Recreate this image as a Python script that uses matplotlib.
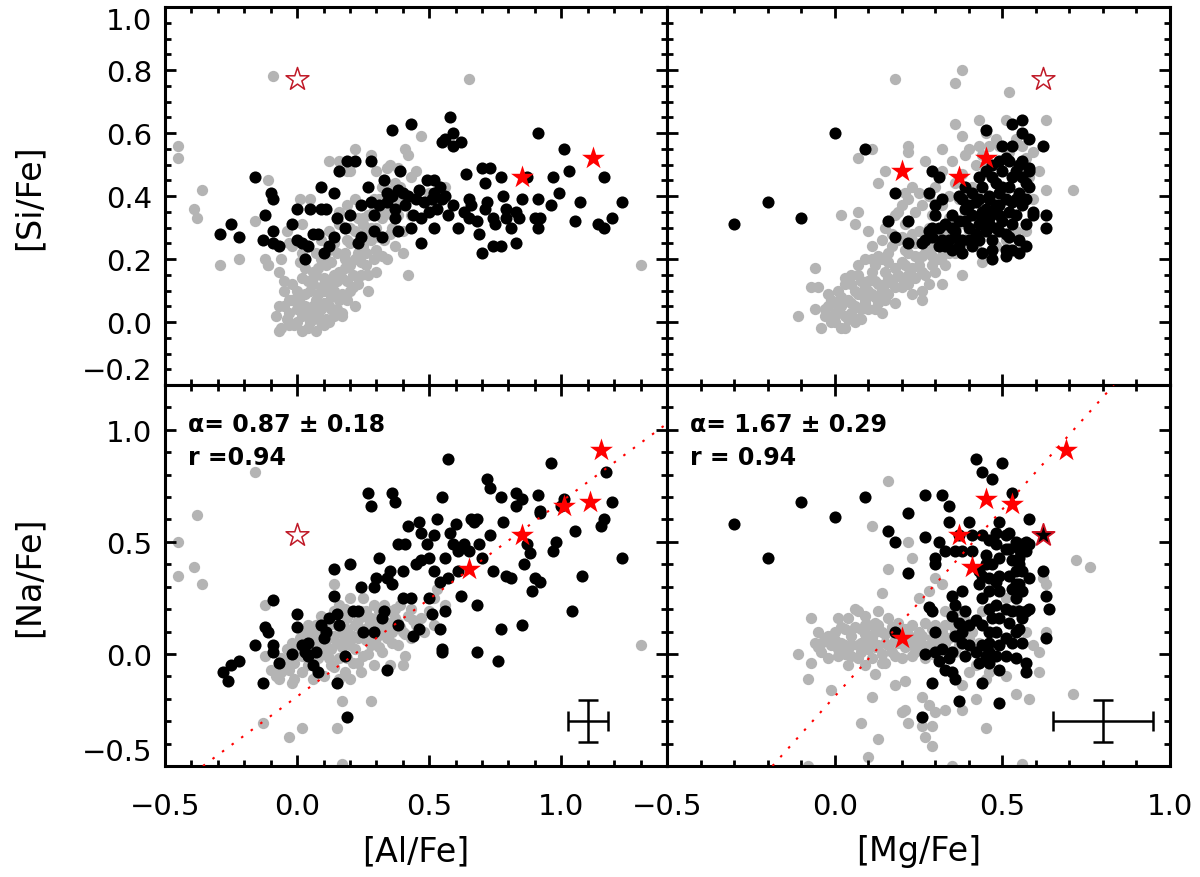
import numpy as np
import matplotlib
matplotlib.use("Agg")
from matplotlib import pyplot as plt
from matplotlib.ticker import MultipleLocator

# ---- values (x, y) ----
# top left: [Al/Fe] vs [Si/Fe]
gray_al_si = [
    (-0.45, 0.56), (-0.45, 0.52), (-0.39, 0.36), (-0.38, 0.33), (-0.36, 0.42), (-0.29, 0.18),
    (-0.22, 0.20), (-0.11, 0.45), (-0.09, 0.78), (0.65, 0.77), (1.30, 0.18), (0.47, 0.59),
    (0.22, 0.55), (0.28, 0.53), (0.41, 0.55), (0.42, 0.53), (0.42, 0.15), (-0.16, 0.32),
    (-0.12, 0.20), (-0.11, 0.18), (0.05, 0.39), (-0.03, 0.25), (0.12, 0.51), (0.20, 0.48),
    (-0.08, 0.02), (-0.07, 0.05), (-0.06, -0.02), (-0.05, 0.10), (-0.04, 0.01), (-0.03, 0.03),
    (-0.02, 0.07), (-0.02, 0.12), (-0.01, -0.01), (0.00, 0.04), (0.01, 0.08), (0.02, 0.02),
    (0.02, 0.14), (0.03, 0.05), (0.04, -0.02), (0.05, 0.10), (0.06, 0.01), (0.07, 0.07),
    (0.07, -0.03), (0.07, 0.15), (0.08, 0.03), (0.09, 0.11), (0.10, 0.06), (0.11, 0.01),
    (0.11, 0.18), (0.12, 0.13), (0.13, 0.04), (0.14, 0.10), (0.15, 0.22), (0.16, 0.16),
    (0.16, 0.07), (0.17, 0.02), (0.18, 0.20), (0.19, 0.13), (0.20, 0.25), (0.20, 0.18),
    (0.21, 0.11), (0.22, 0.29), (0.23, 0.22), (0.24, 0.15), (0.25, 0.31), (0.25, 0.24),
    (0.26, 0.18), (0.27, 0.34), (0.28, 0.26), (0.29, 0.20), (0.29, 0.36), (0.30, 0.30),
    (0.31, 0.39), (0.32, 0.33), (0.33, 0.26), (0.34, 0.42), (0.34, 0.36), (0.35, 0.50),
    (0.36, 0.30), (0.37, 0.44), (0.38, 0.39), (0.38, 0.34), (0.39, 0.43), (0.40, 0.29),
    (0.42, 0.39), (0.43, 0.34), (0.43, 0.46), (0.45, 0.48), (0.50, 0.41), (0.52, 0.38),
    (0.56, 0.43), (-0.04, 0.29), (-0.02, 0.24), (0.01, 0.19), (0.02, 0.22), (0.06, 0.16),
    (0.09, 0.20), (0.12, 0.29), (0.16, 0.31), (0.19, 0.37), (0.16, 0.35), (0.22, 0.39),
    (0.25, 0.33), (0.29, 0.39), (0.32, 0.43), (0.35, 0.40), (0.09, 0.26), (0.02, 0.31),
    (0.01, 0.39), (-0.06, 0.20), (-0.07, 0.16), (-0.05, 0.13), (0.16, 0.51), (0.19, 0.48),
    (0.30, 0.48), (0.34, 0.49), (0.38, 0.49), (-0.11, 0.18), (-0.07, -0.03), (0.02, -0.03),
    (0.12, 0.00), (0.17, 0.03), (0.22, 0.05), (0.27, 0.10), (0.30, 0.16), (0.34, 0.20),
    (0.37, 0.24), (0.40, 0.22), (0.05, 0.00), (0.09, 0.00), (0.13, 0.08), (0.00, 0.10),
    (0.04, 0.13), (0.08, 0.17), (0.15, 0.13), (-0.03, 0.07), (0.10, 0.14), (0.20, 0.10),
    (0.18, 0.22), (0.26, 0.26), (0.23, 0.33), (0.14, 0.25), (0.20, 0.30),
]
# densely packed core of the same cloud
gray_al_si_core = [
    (-0.05, 0.05), (-0.03, -0.01), (0.00, 0.00), (0.01, 0.05), (0.03, 0.09), (0.04, 0.03),
    (0.06, 0.05), (0.08, 0.09), (0.09, 0.04), (0.10, 0.10), (0.12, 0.05), (0.13, 0.11),
    (0.14, 0.15), (0.15, 0.04), (0.17, 0.09), (0.17, 0.14), (0.18, 0.17), (0.19, 0.07),
    (0.21, 0.15), (0.22, 0.20), (0.23, 0.12), (0.24, 0.19), (0.26, 0.22), (0.27, 0.15),
    (0.28, 0.30), (0.30, 0.23), (0.31, 0.27), (0.32, 0.21), (0.33, 0.35), (0.35, 0.28),
    (0.36, 0.34), (0.06, 0.12), (0.03, 0.17), (0.11, 0.22), (0.13, 0.19), (0.07, 0.22),
    (0.10, -0.01), (0.14, 0.02), (0.19, 0.26), (0.25, 0.28),
]
black_al_si = [
    (-0.29, 0.28), (-0.25, 0.31), (-0.22, 0.27), (-0.16, 0.46), (-0.13, 0.26), (-0.12, 0.34),
    (-0.10, 0.41), (-0.09, 0.39), (-0.09, 0.29), (-0.09, 0.25), (-0.07, 0.24), (-0.02, 0.31),
    (0.00, 0.36), (0.00, 0.26), (0.02, 0.25), (0.03, 0.20), (0.04, 0.24), (0.05, 0.36),
    (0.06, 0.28), (0.08, 0.28), (0.09, 0.36), (0.09, 0.43), (0.10, 0.22), (0.11, 0.36),
    (0.12, 0.24), (0.14, 0.41), (0.14, 0.27), (0.15, 0.33), (0.16, 0.48), (0.18, 0.30),
    (0.19, 0.51), (0.20, 0.34), (0.22, 0.51), (0.23, 0.25), (0.24, 0.27), (0.24, 0.37),
    (0.27, 0.43), (0.28, 0.38), (0.28, 0.51), (0.29, 0.34), (0.29, 0.29), (0.31, 0.37),
    (0.32, 0.27), (0.33, 0.45), (0.34, 0.41), (0.34, 0.38), (0.36, 0.61), (0.37, 0.33),
    (0.38, 0.29), (0.39, 0.48), (0.40, 0.41), (0.41, 0.37), (0.43, 0.30), (0.43, 0.63),
    (0.44, 0.34), (0.45, 0.39), (0.46, 0.42), (0.47, 0.25), (0.47, 0.33), (0.49, 0.45),
    (0.50, 0.35), (0.51, 0.39), (0.52, 0.30), (0.53, 0.36), (0.54, 0.43), (0.55, 0.39),
    (0.55, 0.57), (0.56, 0.58), (0.57, 0.34), (0.58, 0.65), (0.59, 0.60), (0.59, 0.56),
    (0.59, 0.37), (0.61, 0.30), (0.62, 0.57), (0.63, 0.35), (0.64, 0.47), (0.65, 0.33),
    (0.65, 0.39), (0.66, 0.37), (0.68, 0.32), (0.69, 0.28), (0.70, 0.22), (0.70, 0.49),
    (0.71, 0.44), (0.71, 0.36), (0.72, 0.38), (0.73, 0.49), (0.74, 0.33), (0.74, 0.24),
    (0.75, 0.31), (0.77, 0.46), (0.77, 0.24), (0.78, 0.40), (0.79, 0.36), (0.79, 0.33),
    (0.81, 0.30), (0.83, 0.35), (0.83, 0.25), (0.84, 0.33), (0.85, 0.39), (0.87, 0.46),
    (0.90, 0.33), (0.91, 0.39), (0.91, 0.30), (0.91, 0.60), (0.92, 0.33), (0.96, 0.37),
    (0.97, 0.46), (0.99, 0.41), (1.01, 0.55), (1.03, 0.48), (1.05, 0.32), (1.07, 0.38),
    (1.14, 0.31), (1.16, 0.30), (1.19, 0.33), (1.23, 0.38), (0.52, 0.45), (0.52, 0.41),
    (0.56, 0.40), (1.16, 0.46), (0.36, 0.40), (0.38, 0.42), (0.42, 0.40), (0.48, 0.38),
    (0.37, 0.36),
]
red_al_si = [(0.85, 0.46), (1.12, 0.52)]
open_al_si = [(0.00, 0.77)]

# top right: [Mg/Fe] vs [Si/Fe]
gray_mg_si = [
    (0.18, 0.77), (0.36, 0.76), (0.38, 0.80), (0.52, 0.73), (0.36, 0.63), (0.38, 0.59),
    (0.43, 0.64), (0.51, 0.64), (0.63, 0.64), (0.61, 0.48), (0.63, 0.42), (0.71, 0.42),
    (0.45, 0.60), (0.32, 0.55), (0.22, 0.56), (0.22, 0.54), (0.11, 0.55), (0.07, 0.52),
    (0.07, 0.35), (0.02, 0.34), (0.06, 0.31), (-0.06, 0.17), (-0.07, 0.11), (-0.05, 0.11),
    (-0.11, 0.02), (0.26, 0.07), (0.38, 0.15), (0.32, 0.12), (0.13, 0.44), (0.15, 0.48),
    (-0.04, -0.02), (-0.03, 0.02), (-0.02, 0.05), (-0.01, 0.00), (-0.01, 0.07), (0.01, 0.03),
    (0.01, 0.10), (0.02, -0.02), (0.02, 0.05), (0.03, 0.12), (0.04, 0.01), (0.04, 0.07),
    (0.05, 0.15), (0.05, 0.03), (0.06, 0.10), (0.07, 0.18), (0.07, 0.01), (0.08, 0.13),
    (0.09, 0.06), (0.09, 0.20), (0.10, 0.29), (0.10, 0.10), (0.11, 0.16), (0.11, 0.24),
    (0.12, 0.04), (0.12, 0.18), (0.13, 0.12), (0.14, 0.26), (0.14, 0.20), (0.15, 0.07),
    (0.15, 0.30), (0.16, 0.14), (0.16, 0.22), (0.18, 0.17), (0.18, 0.34), (0.19, 0.26),
    (0.20, 0.19), (0.20, 0.37), (0.21, 0.23), (0.21, 0.31), (0.22, 0.15), (0.22, 0.39),
    (0.23, 0.28), (0.24, 0.21), (0.24, 0.35), (0.25, 0.41), (0.25, 0.29), (0.26, 0.16),
    (0.26, 0.37), (0.27, 0.22), (0.27, 0.51), (0.28, 0.30), (0.28, 0.40), (0.29, 0.18),
    (0.29, 0.34), (0.30, 0.24), (0.30, 0.43), (0.31, 0.29), (0.31, 0.20), (0.32, 0.37),
    (0.32, 0.48), (0.33, 0.31), (0.34, 0.40), (0.34, 0.22), (0.35, 0.51), (0.35, 0.34),
    (0.36, 0.44), (0.36, 0.26), (0.37, 0.39), (0.37, 0.31), (0.38, 0.47), (0.39, 0.53),
    (0.39, 0.35), (0.40, 0.55), (0.41, 0.43), (0.42, 0.50), (0.43, 0.56), (0.44, 0.53),
    (0.45, 0.50), (0.46, 0.56), (0.48, 0.58), (0.49, 0.56), (0.52, 0.54), (0.54, 0.58),
    (0.56, 0.56), (0.57, 0.52), (0.59, 0.54), (0.58, 0.46), (0.59, 0.39), (0.56, 0.37),
    (0.57, 0.29), (0.54, 0.29), (0.51, 0.26), (0.48, 0.24), (0.46, 0.22), (0.44, 0.19),
    (0.42, 0.24), (0.40, 0.29), (0.09, 0.07), (0.08, 0.01), (0.20, 0.11), (0.24, 0.14),
    (0.28, 0.12), (0.30, 0.16), (0.26, 0.10), (0.19, 0.35), (0.21, 0.41), (0.23, 0.43),
    (0.00, 0.00), (0.03, -0.02), (0.06, 0.05), (0.12, 0.08), (0.08, 0.09), (-0.02, 0.09),
    (0.05, 0.12), (0.10, 0.13), (0.15, 0.16), (0.17, 0.24), (0.13, 0.21), (0.20, 0.27),
    (-0.06, 0.04), (0.00, 0.06),
]
gray_mg_si_core = [
    (-0.03, 0.04), (0.00, 0.03), (0.02, 0.08), (0.03, 0.02), (0.05, 0.06), (0.06, 0.00),
    (0.07, 0.09), (0.08, 0.04), (0.09, 0.11), (0.10, 0.04), (0.11, 0.09), (0.12, 0.13),
    (0.13, 0.06), (0.14, 0.10), (0.15, 0.12), (0.16, 0.09), (0.17, 0.13), (0.18, 0.11),
    (0.19, 0.15), (0.20, 0.14), (0.21, 0.18), (0.22, 0.12), (0.23, 0.17), (0.24, 0.25),
    (0.25, 0.18), (0.26, 0.21), (0.27, 0.27), (0.28, 0.23), (0.29, 0.21), (0.30, 0.28),
    (0.31, 0.25), (0.32, 0.21), (0.33, 0.28), (0.34, 0.33), (0.35, 0.27), (0.36, 0.22),
    (0.03, 0.14), (0.07, 0.15), (0.11, 0.20), (0.16, 0.19), (0.17, 0.28), (0.22, 0.22),
    (0.18, 0.06), (0.14, 0.03), (0.23, 0.09), (0.27, 0.15), (0.33, 0.18),
]
black_mg_si = [
    (-0.30, 0.31), (-0.20, 0.38), (-0.10, 0.33), (0.00, 0.60), (0.09, 0.55), (0.18, 0.41),
    (0.16, 0.32), (0.22, 0.32), (0.18, 0.27), (0.22, 0.25), (0.28, 0.41), (0.29, 0.48),
    (0.31, 0.46), (0.45, 0.61), (0.53, 0.63), (0.56, 0.64), (0.56, 0.60), (0.58, 0.58),
    (0.62, 0.56), (0.53, 0.56), (0.50, 0.56), (0.49, 0.51), (0.52, 0.51), (0.56, 0.51),
    (0.58, 0.49), (0.63, 0.34), (0.63, 0.30), (0.57, 0.24), (0.53, 0.23), (0.51, 0.21),
    (0.47, 0.20), (0.44, 0.22), (0.47, 0.23), (0.38, 0.22), (0.35, 0.23), (0.31, 0.24),
    (0.27, 0.26), (0.29, 0.27), (0.30, 0.37), (0.30, 0.34), (0.31, 0.30), (0.32, 0.39),
    (0.33, 0.31), (0.34, 0.26), (0.35, 0.34), (0.36, 0.29), (0.37, 0.24), (0.38, 0.39),
    (0.39, 0.43), (0.39, 0.36), (0.40, 0.30), (0.40, 0.26), (0.41, 0.41), (0.41, 0.34),
    (0.42, 0.38), (0.43, 0.31), (0.43, 0.26), (0.44, 0.43), (0.44, 0.35), (0.45, 0.29),
    (0.45, 0.48), (0.46, 0.39), (0.46, 0.33), (0.47, 0.26), (0.47, 0.46), (0.48, 0.37),
    (0.48, 0.30), (0.49, 0.41), (0.49, 0.34), (0.50, 0.48), (0.51, 0.39), (0.51, 0.28),
    (0.52, 0.43), (0.52, 0.35), (0.53, 0.31), (0.53, 0.46), (0.54, 0.39), (0.54, 0.34),
    (0.55, 0.26), (0.55, 0.41), (0.56, 0.37), (0.56, 0.46), (0.57, 0.31), (0.57, 0.39),
    (0.58, 0.43), (0.58, 0.48), (0.59, 0.35), (0.59, 0.34), (0.49, 0.29), (0.46, 0.40),
    (0.43, 0.39), (0.40, 0.37), (0.37, 0.32), (0.35, 0.30), (0.33, 0.24), (0.38, 0.26),
    (0.41, 0.24), (0.51, 0.23), (0.55, 0.22), (0.32, 0.26), (0.29, 0.30), (0.28, 0.29),
    (0.26, 0.25), (0.37, 0.40), (0.43, 0.46), (0.47, 0.50), (0.51, 0.52), (0.54, 0.48),
    (0.57, 0.44), (0.55, 0.50), (0.49, 0.37), (0.46, 0.31), (0.44, 0.33), (0.42, 0.28),
    (0.45, 0.36), (0.48, 0.44), (0.50, 0.32), (0.52, 0.27), (0.53, 0.38), (0.50, 0.43),
    (0.47, 0.35), (0.39, 0.32), (0.36, 0.27),
]
red_mg_si = [(0.20, 0.48), (0.37, 0.46), (0.45, 0.52)]
open_mg_si = [(0.62, 0.77)]

# bottom left: [Al/Fe] vs [Na/Fe]
gray_al_na = [
    (-0.45, 0.50), (-0.45, 0.35), (-0.39, 0.39), (-0.38, 0.62), (-0.36, 0.31), (-0.16, 0.81),
    (0.14, 0.31), (1.30, 0.04), (-0.13, -0.31), (-0.03, -0.37), (0.02, -0.33), (0.15, -0.33),
    (0.17, -0.21), (0.28, -0.21), (0.17, -0.49), (-0.12, 0.22), (0.28, 0.16),
    (-0.12, -0.01), (-0.10, -0.07), (-0.08, -0.10), (-0.07, -0.11), (-0.06, -0.02), (-0.04, 0.02),
    (-0.03, -0.07), (-0.02, 0.05), (-0.02, -0.13), (-0.01, -0.04), (0.01, 0.07), (0.02, -0.01),
    (0.02, -0.08), (0.03, 0.10), (0.04, -0.05), (0.05, 0.02), (0.06, -0.11), (0.07, 0.13),
    (0.07, 0.05), (0.08, -0.02), (0.09, 0.17), (0.10, -0.10), (0.11, 0.08), (0.11, 0.01),
    (0.12, 0.13), (0.13, -0.05), (0.14, 0.19), (0.15, 0.05), (0.16, -0.02), (0.16, 0.22),
    (0.17, 0.10), (0.18, -0.08), (0.19, 0.16), (0.20, 0.04), (0.20, 0.25), (0.21, -0.04),
    (0.22, 0.13), (0.23, 0.07), (0.24, 0.19), (0.25, -0.01), (0.25, 0.25), (0.26, 0.10),
    (0.27, 0.16), (0.28, 0.04), (0.29, 0.22), (0.29, 0.13), (0.30, 0.07), (0.31, 0.19),
    (0.32, 0.01), (0.33, 0.22), (0.34, 0.13), (0.34, 0.07), (0.35, 0.19), (0.36, 0.10),
    (0.37, 0.20), (0.38, 0.04), (0.38, 0.14), (0.39, 0.22), (0.40, 0.10), (0.41, -0.01),
    (0.42, 0.17), (0.43, 0.07), (0.43, 0.20), (0.45, 0.13), (0.47, 0.16), (0.48, 0.10),
    (0.50, 0.19), (0.52, 0.25), (0.53, 0.29), (0.56, 0.22), (0.12, 0.07), (0.16, -0.11),
    (0.09, 0.10), (0.02, 0.04), (0.06, -0.02), (0.20, -0.11), (0.24, -0.08), (0.29, -0.05),
    (-0.01, -0.11), (-0.06, -0.08), (0.52, 0.13), (0.35, -0.05), (0.40, -0.05),
]
gray_al_na_core = [
    (-0.04, -0.04), (0.00, 0.02), (0.03, 0.06), (0.05, -0.03), (0.08, 0.02), (0.09, 0.07),
    (0.10, 0.04), (0.13, 0.02), (0.14, 0.08), (0.15, 0.13), (0.17, 0.03), (0.18, 0.07),
    (0.19, 0.11), (0.21, 0.08), (0.22, 0.02), (0.23, 0.15), (0.24, 0.11), (0.26, 0.06),
    (0.27, 0.12), (0.28, 0.09), (0.30, 0.15), (0.31, 0.11), (0.32, 0.18), (0.33, 0.09),
    (0.35, 0.14), (0.36, 0.05), (0.37, 0.16), (0.39, 0.12), (0.41, 0.09), (0.44, 0.15),
    (0.12, -0.02), (0.14, -0.06), (0.19, -0.02), (0.23, -0.04), (0.27, 0.00), (0.31, 0.03),
    (0.06, 0.09), (0.04, 0.13), (0.18, 0.20), (0.26, 0.19),
]
black_al_na = [
    (-0.28, -0.08), (-0.26, -0.12), (-0.25, -0.05), (-0.22, -0.03), (-0.16, 0.04), (-0.13, -0.13),
    (-0.12, 0.12), (-0.11, 0.10), (-0.09, 0.04), (-0.09, 0.01), (-0.09, 0.24), (-0.07, -0.04),
    (-0.02, 0.00), (0.00, 0.18), (0.00, 0.12), (0.02, 0.04), (0.03, 0.01), (0.04, 0.05),
    (0.04, -0.01), (0.06, -0.05), (0.07, 0.01), (0.08, -0.08), (0.09, 0.13), (0.10, 0.07),
    (0.11, 0.10), (0.12, 0.16), (0.14, 0.38), (0.14, 0.26), (0.15, -0.13), (0.15, 0.18),
    (0.16, 0.13), (0.18, -0.01), (0.19, -0.28), (0.20, 0.40), (0.21, 0.19), (0.23, 0.19),
    (0.24, 0.30), (0.25, 0.10), (0.27, 0.72), (0.28, 0.66), (0.29, 0.10), (0.29, 0.30),
    (0.30, 0.34), (0.31, 0.43), (0.32, 0.16), (0.33, 0.19), (0.34, 0.34), (0.34, -0.07),
    (0.35, 0.37), (0.36, 0.31), (0.36, 0.72), (0.37, 0.68), (0.38, 0.49), (0.38, 0.13),
    (0.40, 0.25), (0.40, 0.37), (0.41, 0.49), (0.42, 0.57), (0.43, 0.25), (0.44, 0.08),
    (0.45, 0.40), (0.46, 0.59), (0.46, 0.11), (0.47, 0.42), (0.47, 0.54), (0.49, 0.49),
    (0.50, 0.25), (0.50, 0.43), (0.51, 0.18), (0.52, 0.37), (0.52, 0.53), (0.53, 0.60),
    (0.54, 0.32), (0.54, 0.11), (0.55, 0.02), (0.55, 0.70), (0.55, 0.01), (0.56, 0.43),
    (0.56, 0.19), (0.57, 0.87), (0.57, 0.34), (0.58, 0.54), (0.59, 0.49), (0.60, 0.58),
    (0.61, 0.37), (0.61, 0.46), (0.62, 0.26), (0.63, 0.49), (0.65, 0.46), (0.66, 0.60),
    (0.67, 0.59), (0.68, 0.60), (0.68, 0.22), (0.69, 0.49), (0.70, 0.43), (0.68, 0.01),
    (0.72, 0.78), (0.73, 0.74), (0.73, 0.53), (0.74, 0.37), (0.76, -0.03), (0.77, 0.70),
    (0.77, 0.11), (0.78, 0.59), (0.79, 0.35), (0.81, 0.34), (0.83, 0.66), (0.83, 0.72),
    (0.85, 0.69), (0.85, 0.13), (0.86, 0.40), (0.87, 0.49), (0.88, 0.45), (0.90, 0.34),
    (0.91, 0.71), (0.92, 0.64), (0.92, 0.63), (0.96, 0.85), (0.97, 0.46), (0.98, 0.50),
    (1.00, 0.66), (1.01, 0.69), (1.04, 0.19), (1.05, 0.55), (1.08, 0.35), (1.15, 0.57),
    (1.16, 0.60), (1.17, 0.81), (1.19, 0.68), (1.23, 0.43), (0.92, 0.32), (0.89, 0.28),
]
red_al_na = [(0.65, 0.38), (0.85, 0.53), (1.01, 0.66), (1.11, 0.68), (1.15, 0.91)]
open_al_na = [(0.00, 0.53)]

# bottom right: [Mg/Fe] vs [Na/Fe]
gray_mg_na = [
    (0.16, 0.77), (0.11, 0.57), (0.22, 0.50), (0.23, 0.43), (0.16, 0.38), (0.14, 0.27),
    (0.72, 0.42), (0.76, 0.39), (0.71, -0.18), (0.61, -0.08), (0.63, 0.10), (0.58, -0.20),
    (0.54, -0.18), (0.63, 0.31), (0.62, 0.34), (0.45, -0.33), (0.10, -0.46), (-0.08, -0.50),
    (0.35, -0.50), (0.56, -0.49), (0.13, -0.38), (0.08, -0.31), (0.29, -0.41), (0.27, -0.37),
    (0.11, -0.19), (0.12, -0.09), (0.18, -0.14), (0.21, -0.12), (-0.08, -0.11), (-0.01, -0.16),
    (-0.11, 0.00), (-0.07, -0.04), (0.32, 0.31), (0.30, 0.34),
    (-0.07, 0.16), (-0.06, 0.05), (-0.05, 0.10), (-0.04, 0.01), (-0.03, 0.07), (-0.02, -0.02),
    (-0.01, 0.04), (0.00, 0.10), (0.01, 0.16), (0.01, -0.01), (0.02, 0.05), (0.03, 0.11),
    (0.04, -0.05), (0.04, 0.02), (0.05, 0.08), (0.06, 0.20), (0.07, -0.02), (0.07, 0.04),
    (0.08, 0.11), (0.09, -0.05), (0.09, 0.17), (0.10, 0.02), (0.11, 0.07), (0.11, -0.02),
    (0.12, 0.14), (0.13, 0.04), (0.14, 0.10), (0.14, -0.04), (0.15, 0.05), (0.16, 0.16),
    (0.17, 0.01), (0.18, 0.10), (0.19, 0.05), (0.20, -0.02), (0.21, 0.11), (0.22, 0.04),
    (0.23, 0.07), (0.24, 0.01), (0.25, 0.25), (0.25, 0.10), (0.26, 0.04), (0.27, -0.02),
    (0.28, 0.28), (0.29, 0.07), (0.30, 0.13), (0.31, 0.04), (0.32, 0.10), (0.33, 0.19),
    (0.34, 0.07), (0.35, 0.13), (0.36, 0.01), (0.38, 0.19), (0.40, 0.07), (0.42, -0.05),
    (0.44, 0.19), (0.46, -0.08), (0.48, 0.10), (0.51, 0.25), (0.54, 0.20), (0.57, 0.10),
    (0.59, 0.04), (0.61, 0.01), (0.36, -0.11), (0.38, -0.14), (0.40, -0.08), (0.45, -0.11),
    (0.51, -0.10), (0.42, -0.20), (0.38, -0.25), (0.26, -0.19), (0.28, -0.23), (0.30, -0.26),
    (0.20, -0.26), (0.22, -0.31), (0.26, -0.32), (0.29, -0.32), (0.21, -0.25), (0.33, -0.25),
    (0.01, 0.02), (-0.04, 0.05), (0.05, -0.01), (0.10, 0.13), (0.15, -0.04), (0.03, 0.04),
    (0.08, 0.05), (0.20, 0.08), (0.13, 0.19), (0.07, 0.19),
]
gray_mg_na_core = [
    (-0.05, 0.03), (-0.02, 0.08), (0.00, 0.06), (0.02, 0.12), (0.03, 0.00), (0.05, 0.04),
    (0.06, 0.12), (0.08, 0.01), (0.09, 0.09), (0.10, 0.05), (0.12, 0.03), (0.12, 0.10),
    (0.13, 0.13), (0.15, 0.09), (0.16, 0.04), (0.17, 0.12), (0.18, 0.06), (0.19, 0.14),
    (0.21, 0.03), (0.22, 0.09), (0.23, 0.13), (0.24, 0.05), (0.26, 0.08), (0.27, 0.14),
    (0.28, 0.04), (0.29, 0.11), (0.31, 0.08), (0.33, 0.05), (0.33, 0.13), (0.36, 0.10),
    (0.37, 0.04), (0.39, 0.15), (0.41, 0.10), (0.43, 0.05), (0.04, 0.16), (0.09, 0.13),
    (0.14, 0.00), (0.18, -0.01), (0.23, -0.01), (0.29, 0.00),
]
black_mg_na = [
    (-0.30, 0.58), (-0.20, 0.43), (-0.10, 0.68), (0.00, 0.61), (0.09, 0.70), (0.16, 0.55),
    (0.18, 0.50), (0.22, 0.63), (0.22, 0.36), (0.27, 0.71), (0.27, 0.52), (0.31, 0.50),
    (0.32, 0.71), (0.34, 0.66), (0.42, 0.87), (0.44, 0.81), (0.47, 0.78), (0.50, 0.85),
    (0.53, 0.72), (0.58, 0.60), (0.62, 0.37), (0.64, 0.20), (0.63, 0.07), (0.63, 0.26),
    (0.49, -0.22), (0.37, -0.21), (0.26, -0.28), (0.29, -0.13), (0.44, -0.13), (0.18, 0.10),
    (0.27, 0.00), (0.30, 0.43), (0.30, 0.40), (0.33, 0.46), (0.34, 0.59), (0.36, 0.46),
    (0.35, 0.26), (0.36, 0.22), (0.38, 0.28), (0.37, 0.53), (0.38, 0.46), (0.40, 0.59),
    (0.41, 0.53), (0.41, 0.46), (0.44, 0.53), (0.45, 0.44), (0.46, 0.51), (0.48, 0.54),
    (0.49, 0.59), (0.51, 0.53), (0.52, 0.54), (0.54, 0.50), (0.55, 0.47), (0.56, 0.49),
    (0.57, 0.50), (0.58, 0.49), (0.51, 0.47), (0.49, 0.43), (0.47, 0.40), (0.53, 0.42),
    (0.55, 0.40), (0.56, 0.37), (0.54, 0.37), (0.52, 0.35), (0.49, 0.35), (0.48, 0.32),
    (0.46, 0.34), (0.44, 0.35), (0.43, 0.31), (0.46, 0.28), (0.49, 0.28), (0.53, 0.29),
    (0.55, 0.31), (0.56, 0.28), (0.54, 0.25), (0.55, 0.19), (0.53, 0.19), (0.51, 0.20),
    (0.48, 0.22), (0.46, 0.20), (0.44, 0.25), (0.47, 0.16), (0.49, 0.16), (0.52, 0.14),
    (0.55, 0.11), (0.57, 0.19), (0.58, 0.20), (0.56, 0.16), (0.54, 0.10), (0.53, 0.05),
    (0.51, 0.07), (0.48, 0.10), (0.46, 0.10), (0.44, 0.13), (0.42, 0.15), (0.40, 0.13),
    (0.38, 0.10), (0.36, 0.08), (0.38, 0.05), (0.40, 0.04), (0.42, 0.01), (0.44, 0.04),
    (0.46, 0.01), (0.48, -0.01), (0.51, -0.01), (0.54, -0.02), (0.57, -0.04), (0.57, -0.08),
    (0.49, -0.07), (0.46, -0.04), (0.43, -0.04), (0.35, 0.01), (0.34, -0.02), (0.32, 0.02),
    (0.30, 0.01), (0.31, -0.03), (0.33, -0.07), (0.35, -0.08), (0.36, -0.11), (0.30, 0.10),
    (0.29, 0.19), (0.28, 0.21), (0.35, 0.17), (0.37, 0.14), (0.39, 0.19), (0.43, 0.37),
    (0.45, 0.40), (0.48, 0.49), (0.52, 0.47), (0.55, 0.43), (0.57, 0.46), (0.58, 0.34),
    (0.54, 0.31), (0.49, 0.04), (0.46, 0.05), (0.45, -0.01), (0.39, -0.01), (0.56, 0.05),
]
red_mg_na = [(0.20, 0.07), (0.37, 0.53), (0.41, 0.39), (0.45, 0.69), (0.53, 0.67), (0.69, 0.91)]
open_mg_na = []
dark_mg_na = [(0.62, 0.53)]

# fits shown as dotted lines: slope, intercept
fit_al_na = (0.87, -0.19)
fit_mg_na = (1.67, -0.19)
fit_text_al = ["α= 0.87 ± 0.18", "r =0.94"]
fit_text_mg = ["α= 1.67 ± 0.29", "r = 0.94"]

# typical error bars: x, y, xerr, yerr
err_al = (1.10, -0.30, 0.075, 0.095)
err_mg = (0.80, -0.30, 0.15, 0.095)

GRAY = "#b4b4b4"
plt.rcParams['font.family'] = ['DejaVu Sans']
plt.rcParams['axes.linewidth'] = 2.2

fig = plt.figure(figsize=(12, 8.78), dpi=100)
L, M, R = 165 / 1200, 667 / 1200, 1170 / 1200
T, C, B = 1 - 8 / 878, 1 - 386 / 878, 1 - 767 / 878
ax_tl = fig.add_axes([L, C, M - L, T - C])
ax_tr = fig.add_axes([M, C, R - M, T - C])
ax_bl = fig.add_axes([L, B, M - L, C - B])
ax_br = fig.add_axes([M, B, R - M, C - B])


def draw(ax, gray, black, red, open_st, dark=()):
    g = np.array(gray)
    k = np.array(black)
    ax.scatter(g[:, 0], g[:, 1], s=66, color=GRAY, linewidths=0, zorder=1)
    ax.scatter(k[:, 0], k[:, 1], s=76, color="black", linewidths=0, zorder=2)
    if len(red):
        r = np.array(red)
        ax.scatter(r[:, 0], r[:, 1], s=300, marker="*", color="red", linewidths=0, zorder=5)
    if len(open_st):
        o = np.array(open_st)
        ax.scatter(o[:, 0], o[:, 1], s=300, marker="*", facecolor="white",
                   edgecolor="#c01a28", linewidths=1.1, zorder=5)
    if len(dark):
        d = np.array(dark)
        ax.scatter(d[:, 0], d[:, 1], s=280, marker="*", facecolor="black",
                   edgecolor="#d01020", linewidths=1.3, zorder=5)


draw(ax_tl, gray_al_si + gray_al_si_core, black_al_si, red_al_si, open_al_si)
draw(ax_tr, gray_mg_si + gray_mg_si_core, black_mg_si, red_mg_si, open_mg_si)
draw(ax_bl, gray_al_na + gray_al_na_core, black_al_na, red_al_na, open_al_na)
draw(ax_br, gray_mg_na + gray_mg_na_core, black_mg_na, red_mg_na, open_mg_na, dark_mg_na)

for ax, fit, txt, err in [(ax_bl, fit_al_na, fit_text_al, err_al),
                          (ax_br, fit_mg_na, fit_text_mg, err_mg)]:
    ax.axline((0, fit[1]), slope=fit[0], color="red", lw=1.5,
              linestyle=(0, (1.2, 4.5)), zorder=3)
    ax.text(0.045, 0.898, txt[0], transform=ax.transAxes, fontsize=17,
            fontweight="bold", va="center", ha="left")
    ax.text(0.045, 0.811, txt[1], transform=ax.transAxes, fontsize=17,
            fontweight="bold", va="center", ha="left")
    ax.errorbar(err[0], err[1], xerr=err[2], yerr=err[3], fmt="none",
                ecolor="black", elinewidth=1.8, capsize=7, capthick=1.8, zorder=4)

# limits and ticks
for ax in (ax_tl, ax_bl):
    ax.set_xlim(-0.5, 1.4)
for ax in (ax_tr, ax_br):
    ax.set_xlim(-0.5, 1.0)
for ax in (ax_tl, ax_tr):
    ax.set_ylim(-0.2, 1.0)
    ax.set_yticks([-0.2, 0.0, 0.2, 0.4, 0.6, 0.8, 1.0])
    ax.yaxis.set_minor_locator(MultipleLocator(0.05))
for ax in (ax_bl, ax_br):
    ax.set_ylim(-0.5, 1.2)
    ax.set_yticks([-0.5, 0.0, 0.5, 1.0])
    ax.yaxis.set_minor_locator(MultipleLocator(0.1))

for ax in (ax_tl, ax_tr, ax_bl, ax_br):
    ax.set_xticks([-0.5, 0.0, 0.5, 1.0])
    ax.xaxis.set_minor_locator(MultipleLocator(0.1))
    ax.tick_params(which="both", direction="in", top=True, right=True, width=2.0)
    ax.tick_params(which="major", length=8)
    ax.tick_params(which="minor", length=4.3)
    ax.tick_params(axis="x", labelsize=21, pad=19)
    ax.tick_params(axis="y", labelsize=21, pad=9)

for ax in (ax_tl, ax_tr):
    ax.tick_params(axis="x", labelbottom=False)
for ax in (ax_tr, ax_br):
    ax.tick_params(axis="y", labelleft=False)

ax_tl.set_yticklabels(["−0.2", "0.0", "0.2", "0.4", "0.6", "0.8", "1.0"])
ax_bl.set_yticklabels(["−0.5", "0.0", "0.5", "1.0"])
labs = ax_tl.get_yticklabels()
labs[0].set_va("bottom")
labs[-1].set_va("top")
ax_bl.get_yticklabels()[0].set_va("bottom")
ax_bl.set_xticklabels(["−0.5", "0.0", "0.5", "1.0"])
ax_br.set_xticklabels(["−0.5", "0.0", "0.5", "1.0"])

fig.text((L + M) / 2, 0.030, "[Al/Fe]", fontsize=24, ha="center", va="center")
fig.text((M + R) / 2, 0.030, "[Mg/Fe]", fontsize=24, ha="center", va="center")
fig.text(0.024, (T + C) / 2, "[Si/Fe]", fontsize=24, ha="center", va="center", rotation=90)
fig.text(0.024, (C + B) / 2, "[Na/Fe]", fontsize=24, ha="center", va="center", rotation=90)

fig.savefig("out.png", dpi=100)
